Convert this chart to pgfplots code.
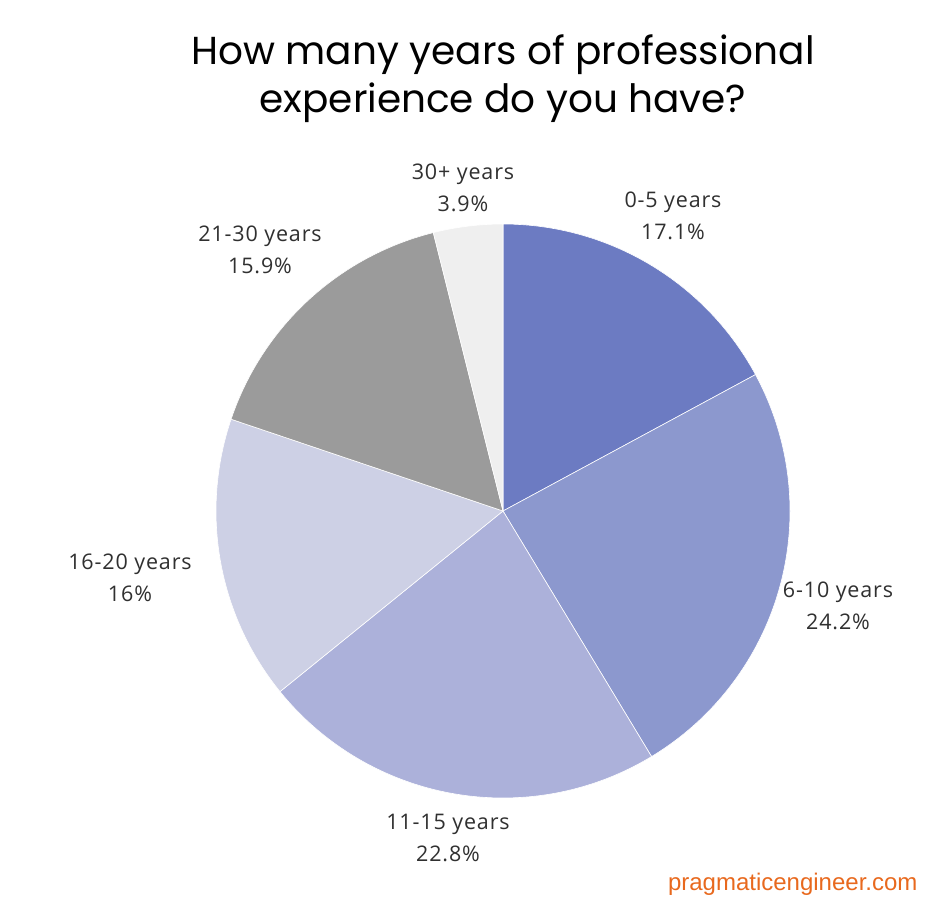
\documentclass[border=0pt]{standalone}
\usepackage{pgfplots}
\pgfplotsset{compat=1.18}
\usepackage{fontspec}
\setmainfont{Open Sans}[LetterSpace=4]
\newfontfamily\titlefont{Poppins}
\newfontfamily\wmfont{Liberation Sans}
\definecolor{cA}{HTML}{6C7BC2}
\definecolor{cB}{HTML}{8C98CE}
\definecolor{cC}{HTML}{ACB1DA}
\definecolor{cD}{HTML}{CDD0E5}
\definecolor{cE}{HTML}{9B9B9B}
\definecolor{cF}{HTML}{EFEFEF}
\definecolor{txt}{HTML}{303030}
\definecolor{wm}{HTML}{E8691E}
% values (percent): 17.1, 24.2, 22.8, 16, 15.9, 3.9  (total 99.9)
% cumulative:  0, 17.1, 41.3, 64.1, 80.1, 96.0, 99.9
\newcommand\K{3.6036036} % degrees per percent point (360/99.9)
\begin{document}
\begin{tikzpicture}
\begin{axis}[
  x=1pt, y=1pt, xmin=0, xmax=944, ymin=0, ymax=922,
  hide axis, scale only axis, clip=false,
  every axis plot/.append style={draw=white, line width=0.6pt, samples=90, variable=t},
]
\path (axis cs:0,0) rectangle (axis cs:944,922);
% slice: from 90 - cum_{i+1}*K  to  90 - cum_i*K
\addplot[fill=cA, domain={90-17.1*\K}:{90-0*\K}]    ({503+287*cos(t)},{411+287*sin(t)}) -- (axis cs:503,411) -- cycle;
\addplot[fill=cB, domain={90-41.3*\K}:{90-17.1*\K}] ({503+287*cos(t)},{411+287*sin(t)}) -- (axis cs:503,411) -- cycle;
\addplot[fill=cC, domain={90-64.1*\K}:{90-41.3*\K}] ({503+287*cos(t)},{411+287*sin(t)}) -- (axis cs:503,411) -- cycle;
\addplot[fill=cD, domain={90-80.1*\K}:{90-64.1*\K}] ({503+287*cos(t)},{411+287*sin(t)}) -- (axis cs:503,411) -- cycle;
\addplot[fill=cE, domain={90-96.0*\K}:{90-80.1*\K}] ({503+287*cos(t)},{411+287*sin(t)}) -- (axis cs:503,411) -- cycle;
\addplot[fill=cF, domain={90-99.9*\K}:{90-96.0*\K}] ({503+287*cos(t)},{411+287*sin(t)}) -- (axis cs:503,411) -- cycle;

\begin{scope}[every node/.style={align=center, text=txt, font=\fontsize{21.5}{32}\selectfont}]
\node at (axis cs:673,706) {0-5 years\\17.1\%};
\node at (axis cs:838,316) {6-10 years\\24.2\%};
\node at (axis cs:448,84) {11-15 years\\22.8\%};
\node at (axis cs:130,344) {16-20 years\\16\%};
\node at (axis cs:260,672) {21-30 years\\15.9\%};
\node at (axis cs:463,734) {30+ years\\3.9\%};
\end{scope}
\node[align=center, font=\titlefont\fontsize{39}{48}\selectfont] at (axis cs:503,843) {How many years of professional\\experience do you have?};
\node[anchor=east, text=wm, font=\wmfont\fontsize{24}{26}\selectfont] at (axis cs:921,38) {pragmaticengineer.com};
\end{axis}
\end{tikzpicture}
\end{document}
